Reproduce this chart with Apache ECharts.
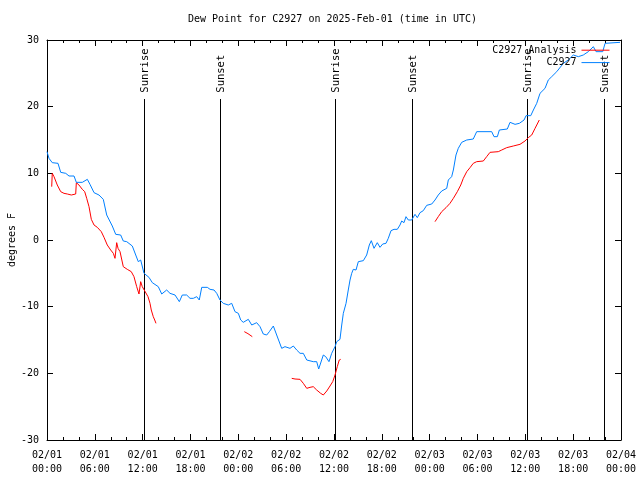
<!DOCTYPE html>
<html>
<head>
<meta charset="utf-8">
<script src="https://cdn.jsdelivr.net/npm/echarts@6/dist/echarts.min.js"></script>
<style>html,body{margin:0;padding:0;background:#fff;}#c{width:640px;height:480px;}</style>
</head>
<body>
<div id="c"></div>
<script>
// hours since 2025-02-01 00:00 UTC
var xTicks = [0, 6, 12, 18, 24, 30, 36, 42, 48, 54, 60, 66, 72];
var yTicks = [-30, -20, -10, 0, 10, 20, 30];

var obsTimes = [0, 0.25, 0.66, 1.38, 1.72, 2.35, 2.76, 3.39, 3.68, 4.43, 5.06, 5.39, 5.9, 6.52, 7.06, 7.49, 8.19, 8.62, 9.24, 9.57, 10.0, 10.7, 11.13, 11.45, 11.75, 12.17, 12.79, 13.21, 13.42, 13.96, 14.39, 15.01, 15.43, 16.06, 16.6, 16.97, 17.52, 17.94, 18.35, 18.78, 19.1, 19.41, 20.11, 20.45, 20.95, 21.29, 21.7, 22.11, 22.74, 23.17, 23.58, 24.0, 24.3, 24.62, 25.25, 25.68, 26.3, 26.72, 27.13, 27.56, 27.89, 28.39, 28.81, 29.44, 29.85, 30.48, 30.9, 31.32, 31.74, 32.15, 32.58, 33.4, 33.83, 34.08, 34.66, 34.96, 35.37, 35.71, 36.13, 36.34, 36.75, 36.97, 37.17, 37.51, 37.79, 38.01, 38.22, 38.42, 38.76, 39.05, 39.68, 40.1, 40.43, 40.68, 41.02, 41.43, 41.77, 42.11, 42.52, 42.81, 43.15, 43.53, 43.94, 44.28, 44.49, 44.78, 45.03, 45.32, 45.75, 46.16, 46.45, 46.79, 47.2, 47.63, 48.26, 48.67, 49.08, 49.51, 49.71, 50.14, 50.34, 50.76, 50.97, 51.3, 51.59, 52.02, 52.65, 53.47, 53.9, 55.78, 56.07, 56.49, 56.74, 57.74, 58.08, 58.71, 59.25, 59.84, 60.09, 60.68, 61.01, 61.43, 61.84, 62.47, 62.88, 63.31, 63.94, 64.77, 65.39, 66.02, 66.65, 67.27, 67.9, 68.53, 68.74, 68.87, 69.71, 70.0, 70.21, 71.88];
var obsValues = [13.25, 12.25, 11.6, 11.5, 10.15, 10.0, 9.6, 9.6, 8.65, 8.65, 9.1, 8.35, 7.1, 6.75, 6.1, 3.75, 2.1, 0.85, 0.75, -0.15, -0.25, -0.9, -2.25, -3.25, -3.0, -5.0, -5.6, -6.4, -6.6, -7.0, -8.1, -7.5, -8.0, -8.25, -9.25, -8.25, -8.25, -8.75, -8.75, -8.5, -9.0, -7.1, -7.1, -7.4, -7.5, -8.0, -9.0, -9.5, -9.75, -9.5, -10.75, -11.0, -12.0, -12.35, -11.9, -12.75, -12.4, -13.0, -14.1, -14.25, -13.75, -12.9, -14.25, -16.25, -16.0, -16.25, -15.9, -16.5, -17.0, -17.0, -18.0, -18.25, -18.25, -19.35, -17.25, -17.5, -18.25, -17.0, -16.0, -15.25, -14.9, -12.75, -11.0, -9.5, -7.5, -6.0, -5.0, -4.4, -4.5, -3.25, -3.1, -2.25, -0.75, -0.1, -1.25, -0.4, -1.1, -0.6, -0.5, 0.25, 1.4, 1.6, 1.6, 2.25, 2.85, 2.6, 3.5, 3.0, 3.0, 3.85, 3.35, 4.1, 4.4, 5.2, 5.4, 6.0, 6.75, 7.35, 7.15, 7.75, 9.0, 9.5, 10.5, 12.75, 13.75, 14.65, 15.0, 15.15, 16.25, 16.25, 15.5, 15.5, 16.5, 16.65, 17.65, 17.35, 17.5, 18.0, 18.65, 18.65, 19.5, 20.5, 22.0, 22.75, 24.0, 24.5, 25.25, 26.5, 27.0, 27.75, 27.5, 27.75, 28.25, 29.0, 29.25, 28.25, 28.25, 29.5, 29.65, 29.65];

var anaTimes = [0.59, 0.66, 0.88, 1.29, 1.72, 2.13, 2.55, 3.05, 3.6, 3.68, 4.01, 4.43, 4.73, 4.98, 5.27, 5.56, 5.9, 6.31, 6.81, 7.15, 7.56, 7.99, 8.32, 8.53, 8.74, 8.91, 9.16, 9.57, 10.07, 10.57, 10.91, 11.25, 11.54, 11.75, 11.95, 12.17, 12.67, 12.92, 13.08, 13.33, 13.51, 13.67, 13.7,
  24.75, 25.21, 25.75, 25.8,
  27.63, 27.7, 27.75,
  30.7, 31.11, 31.74, 32.15, 32.58, 32.99, 33.4, 33.83, 34.33, 34.66, 35.09, 35.5, 35.84, 36.13, 36.41, 36.66, 36.84, 36.9,
  48.67, 49.08, 49.51, 50.05, 50.55, 50.97, 51.47, 51.9, 52.22, 52.65, 53.06, 53.47, 53.9, 54.73, 55.15, 55.57, 56.61, 57.04, 57.66, 58.49, 59.33, 59.96, 60.37, 60.8, 61.22, 61.75];
var anaValues = [8.0, 10.0, 9.5, 8.25, 7.25, 7.0, 6.9, 6.75, 6.9, 8.6, 8.25, 7.6, 7.25, 6.25, 5.0, 3.1, 2.25, 1.9, 1.25, 0.4, -0.75, -1.5, -2.0, -2.75, -0.4, -1.25, -1.75, -4.0, -4.4, -4.75, -5.5, -7.0, -8.1, -6.25, -7.0, -7.25, -8.5, -9.5, -10.5, -11.5, -12.0, -12.5, null,
  -13.75, -14.05, -14.5, null,
  -15.9, -15.9, null,
  -20.75, -20.85, -20.9, -21.5, -22.25, -22.1, -22.0, -22.5, -23.0, -23.25, -22.65, -21.9, -21.25, -20.25, -19.0, -18.0, -17.9, null,
  2.75, 3.5, 4.25, 4.85, 5.5, 6.25, 7.25, 8.25, 9.25, 10.25, 10.85, 11.5, 11.75, 11.85, 12.5, 13.15, 13.25, 13.5, 13.85, 14.1, 14.35, 14.85, 15.35, 15.75, 16.75, 18.0];

var sunTimes = [12.2, 21.74, 36.16, 45.82, 60.25, 69.9];
var sunLabels = ['Sunrise', 'Sunset', 'Sunrise', 'Sunset', 'Sunrise', 'Sunset'];
var sunLineTop = 21.15;
var sunTextBase = 22.1;

var FONT = 'DejaVu Sans Mono';
function zip(a, b) { return a.map(function (t, i) { return [t, b[i]]; }); }
function pad(n) { return (n < 10 ? '0' : '') + n; }

var chart = echarts.init(document.getElementById('c'), null, { renderer: 'canvas' });
var baseX = {
  type: 'value', min: 0, max: 72, interval: 6,
  axisLine: { onZero: false, lineStyle: { color: '#000', width: 1 } },
  axisTick: { inside: true, length: 6, lineStyle: { color: '#000' } },
  minorTick: { show: true, splitNumber: 3, length: 3, lineStyle: { color: '#000' } },
  splitLine: { show: false }
};
var baseY = {
  type: 'value', min: -30, max: 30, interval: 10,
  axisLine: { show: true, onZero: false, lineStyle: { color: '#000', width: 1 } },
  axisTick: { show: true, inside: true, length: 6, lineStyle: { color: '#000' } },
  splitLine: { show: false }
};
chart.setOption({
  animation: false,
  backgroundColor: '#fff',
  title: {
    text: 'Dew Point for C2927 on 2025-Feb-01 (time in UTC)',
    left: 188, top: 14, padding: 0,
    textStyle: { fontFamily: FONT, fontSize: 10, fontWeight: 'normal', color: '#000' }
  },
  legend: {
    orient: 'vertical', align: 'right', right: 30, top: 45, padding: 0,
    itemWidth: 28, itemHeight: 13, itemGap: 2,
    itemStyle: { opacity: 0 },
    lineStyle: { width: 1 },
    textStyle: { fontFamily: FONT, fontSize: 10, color: '#000' },
    data: ['C2927 Analysis', 'C2927']
  },
  grid: { left: 47, right: 19, top: 40, bottom: 40, outerBoundsMode: 'none', containLabel: false },
  xAxis: [
    Object.assign({}, baseX, {
      position: 'bottom',
      axisLabel: {
        margin: 8, fontFamily: FONT, fontSize: 10, color: '#000', lineHeight: 14,
        customValues: xTicks,
        formatter: function (v) {
          var d = Math.floor(v / 24) + 1;
          var h = v - (d - 1) * 24;
          return '02/' + pad(d) + '\n' + pad(h) + ':00';
        }
      }
    }),
    Object.assign({}, baseX, { position: 'top', axisLabel: { show: false } })
  ],
  yAxis: [
    Object.assign({}, baseY, {
      position: 'left',
      name: 'degrees F', nameLocation: 'middle', nameGap: 30, nameMoveOverlap: false,
      nameTextStyle: { fontFamily: FONT, fontSize: 10, color: '#000' },
      axisLabel: { margin: 8, fontFamily: FONT, fontSize: 10, color: '#000', customValues: yTicks }
    }),
    Object.assign({}, baseY, { position: 'right', axisLabel: { show: false } })
  ],
  series: [
    {
      type: 'custom', name: 'sun', xAxisIndex: 0, yAxisIndex: 0,
      data: sunTimes.map(function (t) { return [t, 0]; }),
      encode: { x: 0, y: 1 },
      silent: true, clip: false,
      renderItem: function (params, api) {
        var t = api.value(0);
        var p0 = api.coord([t, -30]);
        var p1 = api.coord([t, sunLineTop]);
        var pt = api.coord([t, sunTextBase]);
        return {
          type: 'group',
          children: [
            { type: 'line', shape: { x1: Math.round(p0[0]) + 0.5, y1: p0[1], x2: Math.round(p1[0]) + 0.5, y2: p1[1] },
              style: { stroke: '#000', lineWidth: 1 } },
            { type: 'text', x: Math.round(pt[0]) + 1, y: pt[1], rotation: Math.PI / 2,
              style: { text: sunLabels[params.dataIndex], fill: '#000', font: '10.5px "DejaVu Sans Mono"', align: 'left', verticalAlign: 'middle' } }
          ]
        };
      }
    },
    {
      type: 'line', name: 'C2927 Analysis', data: zip(anaTimes, anaValues),
      symbol: 'none', connectNulls: false,
      lineStyle: { color: '#ff0000', width: 1 }, itemStyle: { color: '#ff0000' }
    },
    {
      type: 'line', name: 'C2927', data: zip(obsTimes, obsValues),
      symbol: 'none',
      lineStyle: { color: '#0080ff', width: 1 }, itemStyle: { color: '#0080ff' }
    }
  ]
});
</script>
</body>
</html>
